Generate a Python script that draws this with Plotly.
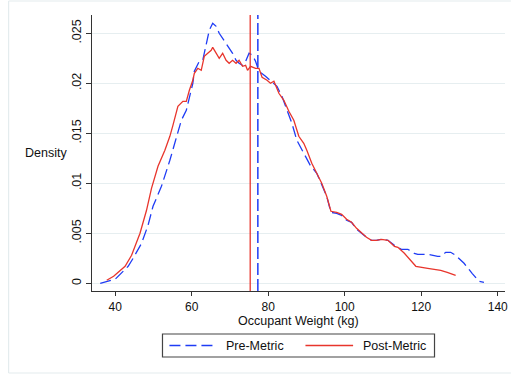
import plotly.graph_objects as go

# Pre-Metric density (kg, density)
pre_x = [36.1, 37.9, 40.0, 43.4, 44.7, 46.9, 48.6, 49.9, 52.1, 54.3, 56.0, 57.3, 58.6, 59.4,
         60.3, 60.7, 61.6, 62.0, 62.9, 63.8, 64.6, 65.5, 66.4, 67.2, 68.1, 69.0, 69.8, 70.7,
         71.6, 72.4, 73.3, 74.1, 75.0, 75.9, 76.7, 77.6, 79.3, 80.6, 82.3, 83.6, 84.9, 86.2,
         87.5, 89.3, 91.0, 92.7, 94.0, 95.3, 96.4, 97.9, 99.2, 100.5, 101.8, 103.1, 104.4,
         105.7, 107.0, 108.3, 109.6, 111.3, 113.0, 114.8, 116.5, 118.2, 119.1, 121.7, 124.3,
         125.1, 126.4, 127.7, 129.0, 131.2, 133.3, 135.1, 136.4]
pre_y = [0.0000, 0.0002, 0.0004, 0.0017, 0.0025, 0.0040, 0.0058, 0.0077, 0.0097, 0.0123,
         0.0147, 0.0163, 0.0173, 0.0187, 0.0200, 0.0212, 0.0218, 0.0222, 0.0223, 0.0240,
         0.0253, 0.0260, 0.0257, 0.0250, 0.0245, 0.0240, 0.0235, 0.0230, 0.0223, 0.0220,
         0.0218, 0.0222, 0.0230, 0.0228, 0.0222, 0.0212, 0.0207, 0.0203, 0.0197, 0.0187,
         0.0173, 0.0160, 0.0143, 0.0130, 0.0118, 0.0110, 0.0099, 0.0087, 0.0071, 0.0070,
         0.0068, 0.0063, 0.0061, 0.0054, 0.0050, 0.0046, 0.0043, 0.0043, 0.0044, 0.0043,
         0.0038, 0.0034, 0.0034, 0.0030, 0.0029, 0.0029, 0.0027, 0.0027, 0.0031, 0.0031,
         0.0028, 0.0020, 0.0010, 0.0002, 0.0001]

# Post-Metric density (kg, density)
post_x = [37.8, 39.6, 42.6, 44.3, 46.5, 48.2, 49.5, 51.2, 53.0, 54.3, 55.1, 56.4, 57.7, 58.6,
          59.4, 60.3, 60.7, 61.6, 62.5, 63.3, 64.2, 65.1, 65.5, 66.4, 67.2, 68.1, 69.0, 69.8,
          70.7, 71.6, 72.4, 73.3, 74.1, 74.6, 75.4, 76.7, 77.6, 78.4, 79.7, 80.6, 81.5, 82.8,
          84.1, 85.4, 86.7, 88.0, 89.3, 90.1, 91.4, 92.7, 94.0, 95.3, 96.4, 97.9, 99.2, 100.5,
          101.8, 103.1, 104.4, 105.7, 107.0, 108.3, 109.6, 111.3, 113.0, 113.9, 115.6, 117.3,
          118.6, 121.7, 125.1, 126.8, 129.0]
post_y = [0.0003, 0.0007, 0.0017, 0.0028, 0.0050, 0.0073, 0.0095, 0.0117, 0.0133, 0.0147,
          0.0158, 0.0177, 0.0182, 0.0182, 0.0193, 0.0203, 0.0210, 0.0215, 0.0213, 0.0227,
          0.0230, 0.0233, 0.0236, 0.0230, 0.0225, 0.0230, 0.0223, 0.0220, 0.0223, 0.0220,
          0.0223, 0.0217, 0.0218, 0.0213, 0.0217, 0.0215, 0.0215, 0.0206, 0.0203, 0.0200,
          0.0202, 0.0190, 0.0183, 0.0172, 0.0163, 0.0147, 0.0140, 0.0133, 0.0120, 0.0110,
          0.0100, 0.0087, 0.0072, 0.0071, 0.0069, 0.0064, 0.0061, 0.0055, 0.0050, 0.0046,
          0.0043, 0.0043, 0.0044, 0.0043, 0.0037, 0.0036, 0.0030, 0.0022, 0.0017, 0.0015,
          0.0013, 0.0011, 0.0008]

# Mean lines
pre_mean = 77.3
post_mean = 75.3

x_ticks = [40, 60, 80, 100, 120, 140]
y_ticks = [0, 0.005, 0.01, 0.015, 0.02, 0.025]
y_tick_text = ["0", ".005", ".01", ".015", ".02", ".025"]

BLUE = "#1f3cf5"
RED = "#e8352c"
FONT = "Liberation Sans, Arial, sans-serif"
DASH = "11px,5px"

fig = go.Figure()
fig.add_trace(go.Scatter(x=pre_x, y=pre_y, mode="lines", name="Pre-Metric",
                         line=dict(color=BLUE, width=1.3, dash=DASH), showlegend=False))
fig.add_trace(go.Scatter(x=post_x, y=post_y, mode="lines", name="Post-Metric",
                         line=dict(color=RED, width=1.3), showlegend=False))

fig.add_shape(type="line", xref="x", yref="paper", x0=post_mean, x1=post_mean, y0=0, y1=1,
              line=dict(color=RED, width=1.3))
fig.add_shape(type="line", xref="x", yref="paper", x0=pre_mean, x1=pre_mean, y0=0, y1=1,
              line=dict(color=BLUE, width=1.5, dash="12px,4px"))

# plot area in pixels
L, R, T, B = 92, 508, 15, 291
W, H = R - L, B - T
def px(x):
    return (x - L) / W
def py(y):
    return (B - y) / H

# outer border (top, left, bottom; right edge lies outside the picture)
border = dict(color="#e4ecee", width=1.2)
fig.add_shape(type="line", xref="paper", yref="paper", x0=px(8), x1=px(514), y0=py(1), y1=py(1), line=border, layer="below")
fig.add_shape(type="line", xref="paper", yref="paper", x0=px(8), x1=px(514), y0=py(373), y1=py(373), line=border, layer="below")
fig.add_shape(type="line", xref="paper", yref="paper", x0=px(8), x1=px(8), y0=py(1), y1=py(373), line=border, layer="below")

# legend box
fig.add_shape(type="rect", xref="paper", yref="paper", x0=px(163), x1=px(437), y0=py(357), y1=py(334),
              line=dict(color="#444", width=1.2), fillcolor="white")
fig.add_shape(type="line", xref="paper", yref="paper", x0=px(170), x1=px(217), y0=py(345.5), y1=py(345.5),
              line=dict(color=BLUE, width=1.3, dash=DASH))
fig.add_shape(type="line", xref="paper", yref="paper", x0=px(307), x1=px(355), y0=py(345.5), y1=py(345.5),
              line=dict(color=RED, width=1.3))
fig.add_annotation(text="Pre-Metric", xref="paper", yref="paper", x=px(225), y=py(346),
                   xanchor="left", yanchor="middle", showarrow=False, font=dict(size=12.5, color="#111", family=FONT))
fig.add_annotation(text="Post-Metric", xref="paper", yref="paper", x=px(363), y=py(346),
                   xanchor="left", yanchor="middle", showarrow=False, font=dict(size=12.5, color="#111", family=FONT))

fig.add_annotation(text="Density", xref="paper", yref="paper", x=px(46), y=py(153),
                   xanchor="center", yanchor="middle", showarrow=False, font=dict(size=12.5, color="#111", family=FONT))
fig.add_annotation(text="Occupant Weight (kg)", xref="paper", yref="paper", x=px(300), y=py(321),
                   xanchor="center", yanchor="middle", showarrow=False, font=dict(size=12.5, color="#111", family=FONT))

fig.update_layout(
    width=514, height=375,
    margin=dict(l=L, r=514 - R, t=T, b=375 - B),
    paper_bgcolor="white", plot_bgcolor="white",
    font=dict(family=FONT, size=12.5, color="#111"),
    showlegend=False,
)
fig.update_xaxes(range=[33.95, 141.9], tickvals=x_ticks, ticks="outside", ticklen=4, tickcolor="#333",
                 showline=True, linecolor="#333", linewidth=1.2, showgrid=False, zeroline=False,
                 tickfont=dict(size=12, family=FONT, color="#111"))
fig.update_yaxes(range=[-0.00077, 0.02683], tickvals=y_ticks, ticktext=y_tick_text, tickangle=-90,
                 ticks="outside", ticklen=5, tickcolor="#333",
                 showline=True, linecolor="#333", linewidth=1.2, showgrid=True, gridcolor="#e6eef0",
                 gridwidth=1, zeroline=False, tickfont=dict(size=12.5, family=FONT, color="#111"))

fig.write_html("out.html")
